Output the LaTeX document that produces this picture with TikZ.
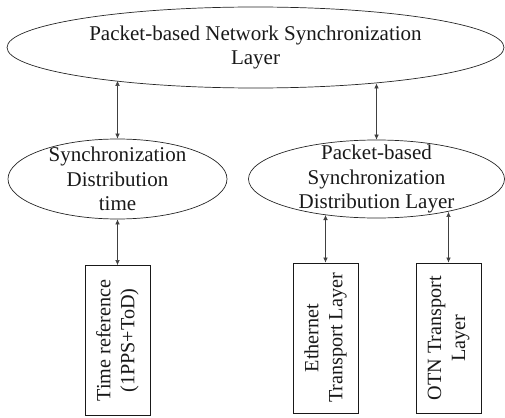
\documentclass[tikz,border=0pt]{standalone}
\usepackage{fontspec}
\setmainfont{Liberation Serif}
\usetikzlibrary{shapes.geometric,arrows.meta}

\begin{document}
\begin{tikzpicture}[x=1pt,y=-1pt,
  layer/.style={ellipse, draw=black!85, line width=0.7pt, inner xsep=0pt, inner ysep=-8pt,
    align=center, text=black!90, font=\fontsize{21}{24.5}\selectfont},
  transport/.style={rectangle, draw=black!90, line width=0.8pt, rotate=90,
    minimum width=150pt, minimum height=65pt, inner sep=0pt,
    align=center, text=black!90, font=\fontsize{20.2}{24}\selectfont},
  link/.style={{Latex[length=5pt,width=4.5pt]}-{Latex[length=5pt,width=4.5pt]}, draw=black!75, line width=0.5pt}]

  \useasboundingbox (0,0) rectangle (505,417);

  % Synchronization layers
  \node[layer, minimum width=497pt, minimum height=81pt] (pnsl) at (255.5,47.5) {Packet-based Network Synchronization\\Layer};
  \node[layer, minimum width=219pt, minimum height=80pt] (sdt) at (117.5,179) {Synchronization\\Distribution\\time};
  \node[layer, minimum width=256pt, minimum height=78pt] (psdl) at (376.5,179) {Packet-based\\Synchronization\\Distribution Layer};

  % Transport and reference boxes
  \node[transport] (tref) at (117.5,340.5) {Time reference\\(1PPS+ToD)};
  \node[transport] (eth) at (325.5,338) {Ethernet\\Transport Layer};
  \node[transport] (otn) at (448.5,338) {OTN Transport\\Layer};

  % Links between layers
  \draw[link] (pnsl.193.7 -| sdt.north) -- (sdt.north);
  \draw[link] (pnsl.343.7 -| psdl.north) -- (psdl.north);

  % Links to transport
  \draw[link] (sdt.south) -- (tref.east);
  \draw[link] (psdl.215.1 -| eth.east) -- (eth.east);
  \draw[link] (psdl.335.9 -| otn.east) -- (otn.east);

\end{tikzpicture}
\end{document}
